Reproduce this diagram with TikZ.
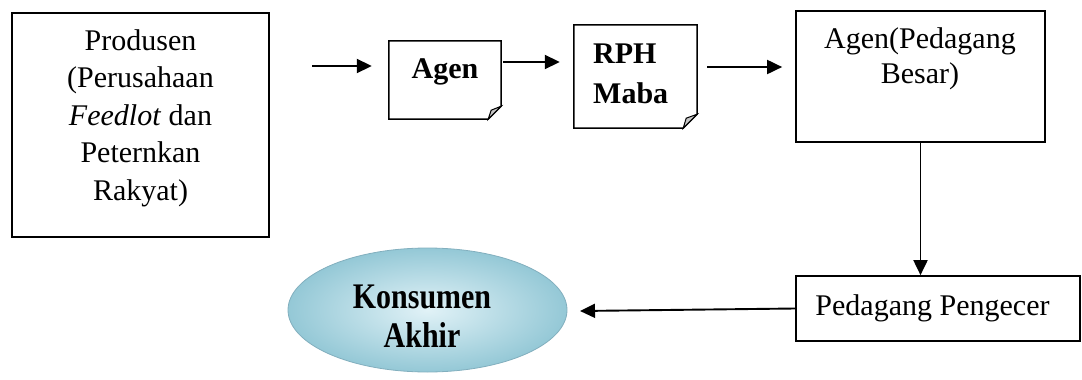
\documentclass[tikz,border=0pt]{standalone}
\usepackage{fontspec}
\setmainfont{Liberation Serif}
\usetikzlibrary{arrows.meta,shapes.geometric}
\tikzset{
  boxnode/.style={draw, line width=1.7pt, rectangle, inner sep=0pt},
  plainbox/.style={rectangle, inner sep=0pt},
  txt/.style={inner sep=0pt, font=\fontsize{30}{37.5}\selectfont, align=center},
  boldtxt/.style={inner sep=0pt, font=\fontsize{30}{40}\selectfont\bfseries, align=left},
  arr/.style={line width=1.9pt, -{Triangle[length=15pt,width=14pt]}},
  foldline/.style={line width=1.5pt, line join=miter},
  foldfill/.style={line width=1pt, fill=gray!45, draw=black},
}
\begin{document}
\begin{tikzpicture}[x=1pt,y=-1pt]
\useasboundingbox (0,0) rectangle (1082,380);

% Produsen
\node[boxnode, minimum width=257pt, minimum height=224pt] (prod) at (140.5,125) {};
\node[txt] (prodt) at (140.5,118) {Produsen\\(Perusahaan\\\textit{Feedlot} dan\\Peternkan\\Rakyat)};

% Agen (folded corner)
\node[plainbox, minimum width=112pt, minimum height=78pt] (agen) at (445,80) {};
\draw[foldline] (agen.north west) -- (agen.north east) -- ([yshift=13pt]agen.south east)
  -- ([xshift=-13pt]agen.south east) -- (agen.south west) -- cycle;
\draw[foldfill] ([yshift=13pt]agen.south east) -- ([xshift=-13pt]agen.south east)
  -- ([xshift=-10pt,yshift=9pt]agen.south east) -- cycle;
\node[boldtxt] (agent) at (445,72) {Agen};

% RPH Maba (folded corner)
\node[plainbox, minimum width=123pt, minimum height=103pt] (rph) at (635.5,76.5) {};
\draw[foldline] (rph.north west) -- (rph.north east) -- ([yshift=14pt]rph.south east)
  -- ([xshift=-14pt]rph.south east) -- (rph.south west) -- cycle;
\draw[foldfill] ([yshift=14pt]rph.south east) -- ([xshift=-14pt]rph.south east)
  -- ([xshift=-11pt,yshift=10pt]rph.south east) -- cycle;
\node[boldtxt, anchor=west] (rpht) at (593,74) {RPH\\Maba};

% Agen (Pedagang Besar)
\node[boxnode, minimum width=249pt, minimum height=131pt] (ab) at (920.5,76.5) {};
\node[txt, font=\fontsize{30}{35}\selectfont] (abt) at (920,59) {Agen(Pedagang\\Besar)};

% Pedagang Pengecer
\node[boxnode, minimum width=284pt, minimum height=65pt] (ped) at (938,308.5) {};
\node[txt] (pedt) at (932.5,308) {Pedagang Pengecer};

% Konsumen Akhir
\node[ellipse, minimum width=279pt, minimum height=124pt, inner sep=0pt,
      draw={rgb,255:red,130;green,175;blue,190}, line width=0.8pt,
      inner color={rgb,255:red,225;green,242;blue,247},
      outer color={rgb,255:red,148;green,200;blue,214}] (kons) at (427.5,310) {};
\node[inner sep=0pt, align=center, font=\fontsize{30}{39}\selectfont\bfseries] (konst) at (422,316)
  {\scalebox{1}[1.2]{Konsumen}\\\scalebox{1}[1.2]{Akhir}};

% connectors
\coordinate (s1) at (312,66);
\coordinate (y62) at (0,62);
\coordinate (y67) at (0,67);
\coordinate (kend) at (580,311);
\draw[arr, shorten >=17pt] (s1) -- (s1 -| agen.west);
\draw[arr, shorten <=2pt, shorten >=14pt] (agen.east |- y62) -- (rph.west |- y62);
\draw[arr, shorten <=10pt, shorten >=13pt] (rph.east |- y67) -- (ab.west |- y67);
\draw[arr] (ab.south) -- (ab.south |- ped.north);
\draw[arr] (ped.west) -- (kend);
\end{tikzpicture}
\end{document}
